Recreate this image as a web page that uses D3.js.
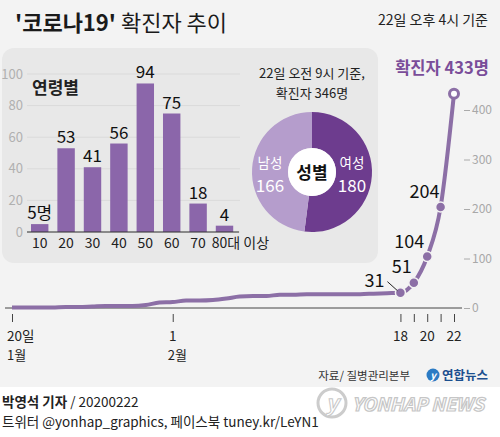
<!DOCTYPE html>
<html><head><meta charset="utf-8">
<script src="https://cdn.jsdelivr.net/npm/d3@7"></script>
<style>
body{margin:0;background:#fff;}
svg text{font-family:"Noto Sans CJK KR","Noto Sans",sans-serif;}
</style></head>
<body><svg id="c" width="500" height="437"></svg>
<script>
// ---- data ----
const ageCategories = ["10","20","30","40","50","60","70","80대 이상"];
const ageValues = [5,53,41,56,94,75,18,4];
const ageTicks = [0,20,40,60,80,100];
const genderLabels = ["여성","남성"];
const genderValues = [180,166];
const dates = ["2020-01-20","2020-01-21","2020-01-22","2020-01-23","2020-01-24","2020-01-25","2020-01-26","2020-01-27","2020-01-28","2020-01-29","2020-01-30","2020-01-31","2020-02-01","2020-02-02","2020-02-03","2020-02-04","2020-02-05","2020-02-06","2020-02-07","2020-02-08","2020-02-09","2020-02-10","2020-02-11","2020-02-12","2020-02-13","2020-02-14","2020-02-15","2020-02-16","2020-02-17","2020-02-18","2020-02-19","2020-02-20","2020-02-21","2020-02-22"];
const cases = [1,1,1,1,2,2,3,4,4,4,6,11,12,15,15,16,19,23,24,24,27,27,28,28,28,28,28,29,30,31,51,104,204,433];
const caseTicks = [0,100,200,300,400];
const dateTickLabels = [["2020-01-20","20일","1월"],["2020-02-01","1","2월"],["2020-02-18","18",""],["2020-02-19","",""],["2020-02-20","20",""],["2020-02-21","",""],["2020-02-22","22",""]];
const labeledDates = ["2020-02-18","2020-02-19","2020-02-20","2020-02-21"];

const svg = d3.select("#c");
const parse = d3.timeParse("%Y-%m-%d");
const LINE = "#8c6fa6", DARK="#6d3c8e", LIGHT="#b59dcc", BAR="#8b66aa";

// backgrounds
svg.append("rect").attr("x",0).attr("y",0).attr("width",500).attr("height",387).attr("fill","#f3f3f3");
svg.append("rect").attr("x",2).attr("y",48).attr("width",376).attr("height",215).attr("rx",12).attr("fill","#e8e8e8");

// title
const t = svg.append("text").attr("x",15).attr("y",31).attr("font-size",22).attr("fill","#1a1a1a");
t.append("tspan").attr("font-weight","bold").text("'코로나19'");
t.append("tspan").attr("font-weight","normal").text(" 확진자 추이");
svg.append("text").attr("x",488).attr("y",25).attr("text-anchor","end").attr("font-size",14).attr("fill","#222").text("22일 오후 4시 기준");

// ---- main line chart ----
const x = d3.scaleTime().domain([parse("2020-01-20"), parse("2020-02-22")]).range([12,454]);
const y = d3.scaleLinear().domain([0,400]).range([308,110]);
const pts = dates.map((d,i)=>({date:parse(d), v:cases[i], key:d}));

// baseline
svg.append("line").attr("x1",5).attr("x2",462).attr("y1",y(0)).attr("y2",y(0)).attr("stroke","#444").attr("stroke-width",1);

// right axis
const ra = svg.append("g").attr("transform","translate(464,0)")
  .call(d3.axisRight(y).tickValues(caseTicks).tickSize(6).tickPadding(2));
ra.select(".domain").remove();
ra.selectAll("line").attr("stroke","#aaa");
ra.selectAll("text").attr("fill","#a8a8a8").attr("font-size",12).attr("font-family","'Noto Sans CJK KR',sans-serif");

// bottom axis
const ba = svg.append("g").attr("transform","translate(0,314)")
  .call(d3.axisBottom(x).tickValues(dateTickLabels.map(d=>parse(d[0]))).tickSize(8).tickFormat(""));
ba.select(".domain").remove();
ba.selectAll("line").attr("stroke","#444");
dateTickLabels.forEach(d=>{
  const xx = x(parse(d[0]));
  if(!d[1]) return;
  if(d[2]){
    svg.append("text").attr("x", d[1]==="1"? xx : xx-5).attr("y",341).attr("text-anchor", d[1]==="1"?"middle":"start")
      .attr("font-size",13.5).attr("fill","#222").text(d[1]);
    svg.append("text").attr("x",xx-5).attr("y",360).attr("text-anchor","start").attr("font-size",13).attr("fill","#222").text(d[2]);
  } else {
    svg.append("text").attr("x",xx).attr("y",341).attr("text-anchor","middle").attr("font-size",13.5).attr("fill","#222").text(d[1]);
  }
});

const line = d3.line().x(d=>x(d.date)).y(d=>y(d.v)).curve(d3.curveMonotoneX);
svg.append("path").datum(pts).attr("d",line).attr("fill","none").attr("stroke",LINE).attr("stroke-width",4).attr("stroke-linejoin","round");

const dotPts = pts.filter(d=>labeledDates.includes(d.key));
svg.selectAll("circle.dot").data(dotPts).enter().append("circle")
  .attr("cx",d=>x(d.date)).attr("cy",d=>y(d.v)).attr("r",5).attr("fill",LINE).attr("stroke","#f3f3f3").attr("stroke-width",1.5);
const last = pts[pts.length-1];
svg.append("circle").attr("cx",x(last.date)).attr("cy",y(last.v)).attr("r",4.5).attr("fill","#fff").attr("stroke",LINE).attr("stroke-width",3);

// point labels
const lblOff = {"2020-02-18":[-16,-6,"end"],"2020-02-19":[-12,-10,"middle"],"2020-02-20":[-18,-9,"middle"],"2020-02-21":[-16,-9,"middle"]};
dotPts.forEach(d=>{
  const o = lblOff[d.key];
  svg.append("text").attr("x",x(d.date)+o[0]).attr("y",y(d.v)+o[1]).attr("text-anchor",o[2])
    .attr("font-size",18).attr("fill","#111").text(d.v);
});
{
  const p = dotPts[0];
  svg.append("line").attr("x1",x(p.date)-13).attr("y1",y(p.v)-11).attr("x2",x(p.date)-3).attr("y2",y(p.v)-2).attr("stroke","#222").attr("stroke-width",1);
}
svg.append("text").attr("x",442).attr("y",74).attr("text-anchor","middle").attr("font-size",16.5).attr("font-weight","bold").attr("fill","#7a4d99").text("확진자 "+last.v+"명");

// ---- age bar chart ----
const bx = d3.scaleBand().domain(ageCategories).range([26.5,237.7]).paddingInner(0.34).paddingOuter(0.17);
const by = d3.scaleLinear().domain([0,100]).range([232,74]);
svg.selectAll("line.grid").data(ageTicks).enter().append("line")
  .attr("x1",27).attr("x2",240).attr("y1",d=>by(d)).attr("y2",d=>by(d)).attr("stroke","#dadada").attr("stroke-width",1);
const la = svg.append("g").attr("transform","translate(26,0)").call(d3.axisLeft(by).tickValues(ageTicks).tickSize(0).tickPadding(3));
la.select(".domain").remove();
la.selectAll("text").attr("fill","#b0b0b0").attr("font-size",13).attr("font-family","'Noto Sans CJK KR',sans-serif");
svg.selectAll("rect.bar").data(ageValues).enter().append("rect")
  .attr("x",(d,i)=>bx(ageCategories[i])).attr("y",d=>by(d)).attr("width",bx.bandwidth()).attr("height",d=>by(0)-by(d)).attr("fill",BAR);
svg.append("line").attr("x1",27).attr("x2",239).attr("y1",by(0)).attr("y2",by(0)).attr("stroke","#333").attr("stroke-width",1);
svg.selectAll("text.val").data(ageValues).enter().append("text")
  .attr("x",(d,i)=>bx(ageCategories[i])+bx.bandwidth()/2).attr("y",d=>by(d)-5).attr("text-anchor","middle")
  .attr("font-size",17).attr("fill","#111").text((d,i)=> i===0? d+"명" : d);
svg.selectAll("text.cat").data(ageCategories).enter().append("text")
  .attr("x",(d,i)=> i===ageCategories.length-1 ? bx(d)-4 : bx(d)+bx.bandwidth()/2)
  .attr("y",248).attr("text-anchor",(d,i)=> i===ageCategories.length-1 ? "start":"middle")
  .attr("font-size",14).attr("fill","#222").text(d=>d);
svg.append("text").attr("x",32).attr("y",94).attr("font-size",17).attr("font-weight","bold").attr("fill","#222").text("연령별");

// ---- donut ----
const cx=312, cy=172;
svg.append("text").attr("x",cx).attr("y",78).attr("text-anchor","middle").attr("font-size",13).attr("fill","#222").text("22일 오전 9시 기준,");
svg.append("text").attr("x",cx).attr("y",98).attr("text-anchor","middle").attr("font-size",13).attr("fill","#222").text("확진자 "+d3.sum(genderValues)+"명");
const pie = d3.pie().sort(null).startAngle(0).endAngle(2*Math.PI)(genderValues);
const arc = d3.arc().innerRadius(24).outerRadius(60);
const dg = svg.append("g").attr("transform",`translate(${cx},${cy})`);
dg.selectAll("path").data(pie).enter().append("path").attr("d",arc).attr("fill",(d,i)=> i===0?DARK:LIGHT);
dg.append("circle").attr("r",24).attr("fill","#fff");
dg.append("text").attr("y",7).attr("text-anchor","middle").attr("font-size",17).attr("font-weight","bold").attr("fill","#111").text("성별");
const lx = [40,-42];
genderLabels.forEach((g,i)=>{
  dg.append("text").attr("x",lx[i]).attr("y",-4.5).attr("text-anchor","middle").attr("font-size",13.5).attr("fill","#fff").text(g);
  dg.append("text").attr("x",lx[i]).attr("y",20).attr("text-anchor","middle").attr("font-size",17).attr("fill","#fff").text(genderValues[i]);
});

// ---- footer ----
svg.append("text").attr("x",410).attr("y",380).attr("text-anchor","end").attr("font-size",11.5).attr("fill","#333").text("자료/ 질병관리본부");
svg.append("circle").attr("cx",433).attr("cy",375).attr("r",6.5).attr("fill","#2b7bc4");
svg.append("text").attr("x",433).attr("y",379).attr("text-anchor","middle").attr("font-size",10).attr("font-style","italic").attr("font-weight","bold").attr("fill","#fff").text("y");
svg.append("text").attr("x",442).attr("y",380).attr("font-size",12.5).attr("font-weight","bold").attr("fill","#1c4f8f").text("연합뉴스");

const f1 = svg.append("text").attr("x",2).attr("y",407).attr("font-size",13.5).attr("fill","#222");
f1.append("tspan").attr("font-weight","bold").text("박영석 기자");
f1.append("tspan").text(" / 20200222");
svg.append("text").attr("x",2).attr("y",427).attr("font-size",13.5).attr("fill","#222").text("트위터 @yonhap_graphics, 페이스북 tuney.kr/LeYN1");

// watermark
svg.append("circle").attr("cx",332).attr("cy",403).attr("r",14).attr("fill","none").attr("stroke","#ccc").attr("stroke-width",3);
svg.append("text").attr("x",332).attr("y",411).attr("text-anchor","middle").attr("font-size",22).attr("font-style","italic").attr("font-weight","bold").attr("fill","#fff").attr("stroke","#c8c8c8").attr("stroke-width",1).text("y");
svg.append("text").attr("x",352).attr("y",411).attr("font-size",18).attr("font-style","italic").attr("font-weight","bold").attr("fill","#fff").attr("stroke","#c6c6c6").attr("stroke-width",1.2).attr("font-family","'DejaVu Sans',sans-serif").attr("textLength",132).attr("lengthAdjust","spacingAndGlyphs").text("YONHAP NEWS");
</script></body></html>
